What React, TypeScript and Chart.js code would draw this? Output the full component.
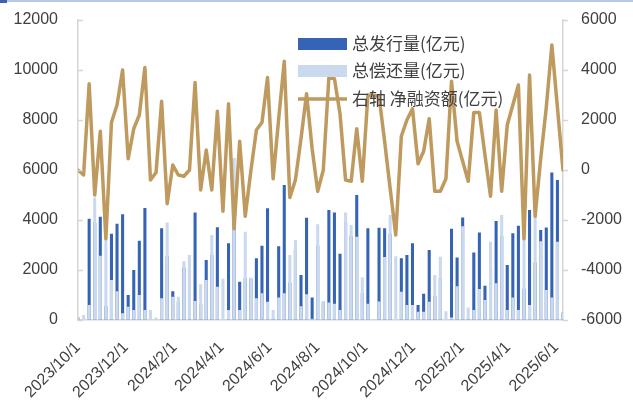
import React, { useEffect, useRef } from "react";
import { Chart, registerables } from "chart.js";

Chart.register(...registerables);

const issuance = [
  100, 0, 4050, 3900, 4130, 550, 3450, 3850, 4230, 1000,
  2000, 3170, 4480, 0, 0, 3670, 2550, 1150, 730, 2100,
  2600, 4300, 630, 2400, 2600, 3710, 0, 3070, 4130, 1530,
  1680, 1650, 2470, 2970, 4470, 50, 2950, 5400, 1500, 2800,
  1800, 4090, 900, 2980, 730, 4400, 4300, 2650, 3900, 3350,
  5000, 1080, 3670, null, 3690, 3670, 3450, 0, 2470, 2600,
  3070, 600, 1050, 2800, 950, 1680, 0, 3650, 2500, 4100,
  50, 2700, 3500, 1370, 2080, 3960, 3350, 2200, 3470, 3770,
  1250, 4400, 2300, 3600, 3700, 5900, 5600, 300,
];
const repayment = [
  100, 200, 600, 4900, 2570, 3300, 1600, 1150, 270, 530,
  400, 1000, 400, 400, 100, 870, 3900, 930, 930, 2350,
  2600, 760, 1430, 1600, 3400, 1330, 1650, 400, 6480, 400,
  3530, 1700, 870, 1070, 730, 400, 900, 1070, 2600, 3200,
  550, 1030, 50, 3830, 730, 700, 650, 400, 4300, 3800,
  3330, 1700, 650, null, 740, 2520, 4200, 2550, 1130, 600,
  600, 330, 330, 730, 1800, 2530, 350, 100, 1350, 3750,
  500, 400, 1240, 800, 3130, 1470, 4200, 400, 900, 400,
  4000, 600, 4150, 3150, 1200, 900, 3130, 300,
];
const netFinancing = [
  0, -200, 3450, -1000, 1550, -2750, 1900, 2600, 4000, 450,
  1650, 2200, 4100, -400, -100, 2750, -1350, 200, -200, -250,
  0, 3500, -800, 800, -800, 2350, -1650, 2650, -2350, 1150,
  -1850, -50, 1600, 1900, 3700, -350, 2050, 4350, -1100, -400,
  1250, 3050, 850, -850, 0, 3700, 3650, 2250, -400, -450,
  1650, -450, 3000, null, 2950, 1150, -750, -2600, 1350, 2000,
  2450, 250, 750, 2050, -850, -850, -350, 3550, 1150, 350,
  -450, 2300, 2300, 600, -1050, 2400, -850, 1800, 2600, 3400,
  -2750, 3800, -1850, 450, 2500, 5000, 2500, 0,
];
const xTickLabels = [
  "2023/10/1", "2023/12/1", "2024/2/1", "2024/4/1", "2024/6/1", "2024/8/1",
  "2024/10/1", "2024/12/1", "2025/2/1", "2025/4/1", "2025/6/1",
];
const seriesNames = ["总发行量(亿元)", "总偿还量(亿元)", "右轴 净融资额(亿元)"];
const START_DATE = "2023/10/1";
const PERIOD_DAYS = 7.1; // average spacing of the observations, in days

// ---- styles ----
const DARK = "#3563b5";
const LIGHT = "#cbd9ef";
const GOLD = "#bf9a5e";
const AXIS = "#d6d6d6";
const TEXT = "#404040";
const FONT = "'Liberation Sans', Arial, sans-serif";
const CJK = "'Noto Sans CJK SC', sans-serif";

function dayNum(s: string) {
  const [y, m, d] = s.split("/").map(Number);
  return Date.UTC(y, m - 1, d) / 86400000;
}
function tickPosition(label: string) {
  return (dayNum(label) - dayNum(START_DATE)) / PERIOD_DAYS;
}
const toPoints = (arr: (number | null)[]) => arr.map((v, i) => ({ x: i, y: v }));

const legendPlugin = {
  id: "insideLegend",
  afterDraw(chart: any) {
    const { ctx, chartArea } = chart;
    const ys = chart.scales.y;
    const yr = chart.scales.y1;
    ctx.save();
    ctx.strokeStyle = AXIS;
    ctx.lineWidth = 1.5;
    // inward tick marks on the left axis
    ys.ticks.forEach((t: any) => {
      const py = Math.round(ys.getPixelForValue(t.value)) + 0.5;
      ctx.beginPath();
      ctx.moveTo(chartArea.left, py);
      ctx.lineTo(chartArea.left + 5, py);
      ctx.stroke();
    });
    // outward tick marks on the right axis
    yr.ticks.forEach((t: any) => {
      const py = Math.round(yr.getPixelForValue(t.value)) + 0.5;
      ctx.beginPath();
      ctx.moveTo(chartArea.right, py);
      ctx.lineTo(chartArea.right + 5, py);
      ctx.stroke();
    });
    // legend
    const x0 = 298;
    const w = 49;
    const rows = [44, 71, 99];
    ctx.font = `17px ${CJK}`;
    ctx.textBaseline = "middle";
    ctx.textAlign = "left";
    ctx.fillStyle = DARK;
    ctx.fillRect(x0, rows[0] - 6, w, 12);
    ctx.fillStyle = LIGHT;
    ctx.fillRect(x0, rows[1] - 6, w, 12);
    ctx.strokeStyle = GOLD;
    ctx.lineWidth = 3.5;
    ctx.beginPath();
    ctx.moveTo(x0, rows[2]);
    ctx.lineTo(x0 + w, rows[2]);
    ctx.stroke();
    ctx.fillStyle = TEXT;
    seriesNames.forEach((n, i) => ctx.fillText(n, x0 + w + 5, rows[i]));
    ctx.restore();
  },
};

const plain = (v: any) => String(v);
const hiddenTicks = { display: true, drawOnChartArea: false, drawTicks: true, color: "rgba(0,0,0,0)" };

export default function App() {
  const ref = useRef<HTMLCanvasElement | null>(null);
  useEffect(() => {
    if (!ref.current) return;
    const chart = new Chart(ref.current, {
      type: "bar",
      data: {
        datasets: [
          {
            type: "line",
            label: seriesNames[2],
            data: toPoints(netFinancing),
            yAxisID: "y1",
            borderColor: GOLD,
            backgroundColor: GOLD,
            borderWidth: 3.5,
            pointRadius: 0,
            tension: 0,
            spanGaps: true,
            borderJoinStyle: "round",
            borderCapStyle: "round",
            order: 0,
          } as any,
          {
            type: "bar",
            label: seriesNames[1],
            data: toPoints(repayment),
            yAxisID: "y",
            backgroundColor: LIGHT,
            grouped: false,
            barPercentage: 0.55,
            categoryPercentage: 1,
            order: 1,
          } as any,
          {
            type: "bar",
            label: seriesNames[0],
            data: toPoints(issuance),
            yAxisID: "y",
            backgroundColor: DARK,
            grouped: false,
            barPercentage: 0.55,
            categoryPercentage: 1,
            order: 2,
          } as any,
        ],
      },
      options: {
        animation: false,
        responsive: false,
        devicePixelRatio: 1,
        layout: { padding: { top: 20, left: 0, right: 0, bottom: 0 } },
        plugins: { legend: { display: false }, tooltip: { enabled: false } },
        scales: {
          x: {
            type: "linear",
            min: 0,
            max: issuance.length - 1,
            offset: false,
            grid: { display: false, drawTicks: false },
            border: { display: true, color: AXIS, width: 1.5 },
            afterBuildTicks: (s: any) => {
              s.ticks = xTickLabels.map((l) => ({ value: tickPosition(l) }));
            },
            afterFit: (s: any) => {
              s.height = 91;
            },
            ticks: {
              autoSkip: false,
              maxRotation: 45,
              minRotation: 45,
              padding: 18,
              color: TEXT,
              font: { family: FONT, size: 16 },
              callback: (_v: any, i: number) => xTickLabels[i],
            },
          } as any,
          y: {
            type: "linear",
            position: "left",
            min: 0,
            max: 12000,
            grid: { ...hiddenTicks, tickLength: 17 },
            border: { display: true, color: AXIS, width: 1.5 },
            afterFit: (s: any) => {
              s.width = 78;
            },
            ticks: {
              stepSize: 2000,
              padding: 3,
              color: TEXT,
              font: { family: FONT, size: 16 },
              callback: plain,
            },
          } as any,
          y1: {
            type: "linear",
            position: "right",
            min: -6000,
            max: 6000,
            grid: { ...hiddenTicks, tickLength: 15 },
            border: { display: true, color: AXIS, width: 1.5 },
            afterFit: (s: any) => {
              s.width = 70;
            },
            ticks: {
              stepSize: 2000,
              padding: 3,
              color: TEXT,
              font: { family: FONT, size: 16 },
              callback: plain,
            },
          } as any,
        },
      },
      plugins: [legendPlugin],
    });
    return () => chart.destroy();
  }, []);

  return (
    <div style={{ position: "absolute", left: 0, top: 0, width: 633, height: 411, background: "#fff" }}>
      <canvas ref={ref} width={633} height={411} style={{ display: "block" }} />
      <div style={{ position: "absolute", left: 0, top: 0, width: 633, height: 2, background: "#b9c8e6" }} />
      <div style={{ position: "absolute", left: 0, top: 0, width: 7, height: 3, background: "#3f62ad" }} />
    </div>
  );
}
